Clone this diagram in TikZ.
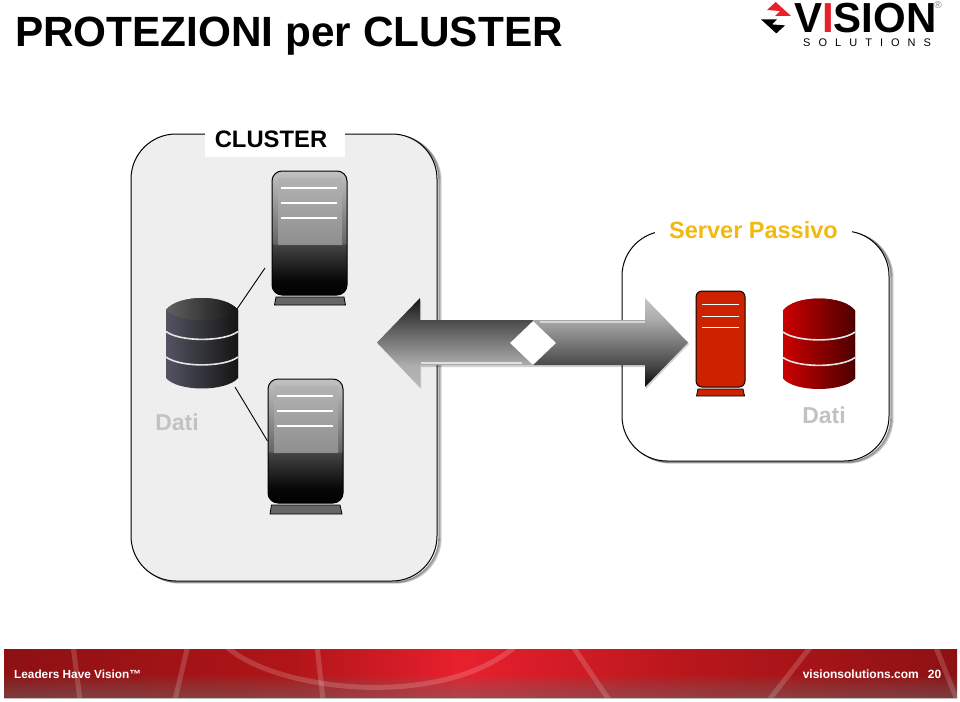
\documentclass[tikz,border=0pt]{standalone}
\usepackage{fontspec}
\setmainfont{Liberation Sans}
\newfontfamily\logofont[LetterSpace=73]{Liberation Sans}
\usetikzlibrary{shapes.geometric}
\definecolor{boxgrey}{HTML}{EEEEEE}
\definecolor{datigrey}{HTML}{C2C2C2}
\definecolor{amber}{HTML}{F2B90F}
\definecolor{srvred}{HTML}{CC2200}
\definecolor{footred}{HTML}{B01518}
\definecolor{footbright}{HTML}{E8202E}
\definecolor{logored}{HTML}{E8202A}
\pgfdeclareverticalshading{srvgrey}{100bp}{color(0bp)=(black);color(25bp)=(black);color(31bp)=(black!97!white);color(45bp)=(black!74!white);color(46bp)=(black!60!white);color(75bp)=(black!24!white);color(100bp)=(black!24!white)}
\pgfdeclareverticalshading{arrL}{100bp}{color(0bp)=(black!28!white);color(25bp)=(black!28!white);color(37bp)=(black!32!white);color(62bp)=(black!70!white);color(75bp)=(black!92!white);color(100bp)=(black!92!white)}
\pgfdeclareverticalshading{arrR}{100bp}{color(0bp)=(black!98!white);color(25bp)=(black!98!white);color(37bp)=(black!72!white);color(63bp)=(black!33!white);color(75bp)=(black!22!white);color(100bp)=(black!22!white)}
\pgfdeclarehorizontalshading{footshade}{100bp}{color(0bp)=(footred!80!black);color(25bp)=(footred!80!black);color(40bp)=(footred);color(49bp)=(footbright);color(60bp)=(footred!80!footbright);color(75bp)=(footred!80!black);color(100bp)=(footred!80!black)}
\tikzset{
  groupbox/.style={draw=black,line width=1pt,rounded corners=45pt},
  boxshadow/.style={draw=black!55!white,line width=1.4pt,rounded corners=45pt},
  datilabel/.style={text=datigrey,font=\fontsize{23}{25}\selectfont\bfseries,inner sep=0pt},
  greyserver/.style={draw=black,line width=1pt,rounded corners=10pt,shading=srvgrey,minimum width=75pt,minimum height=124pt,inner sep=0pt},
  redserver/.style={draw=black,line width=1pt,fill=srvred,rounded corners=6pt,minimum width=49pt,minimum height=96pt,inner sep=0pt},
  panel/.style={top color=black!30!white,bottom color=black!44!white,minimum width=64pt,minimum height=66pt,inner sep=0pt},
  srvline/.style={white,line width=1.2pt},
  greybase/.style={draw=black,line width=.8pt,fill=black!60!white},
  redbase/.style={draw=black,line width=.8pt,fill=srvred},
  link/.style={draw=black,line width=.9pt},
  swoosh/.style={white,opacity=.17,line width=5pt},
  foottext/.style={text=white,font=\fontsize{12}{14}\selectfont\bfseries,inner sep=0pt},
}
\newcommand{\dbicon}[6]{%
  % x, y, left, middle, right, top left
  \begin{scope}[shift={(#1,#2)}]
    \fill[black!35!white,opacity=.5] (0.5,12.5) -- (0.5,80.5) .. controls (12,92.5) and (60,92.5) .. (72.5,80.5) -- (72.5,12.5) -- cycle;
    \shade[left color=#3,middle color=#4,right color=#5] (0,12) -- (0,80) .. controls (12,94) and (60,94) .. (72,80) -- (72,12) .. controls (60,-4) and (12,-4) .. (0,12) -- cycle;
    \shade[left color=#6,right color=#5] (0,12) .. controls (12,-4) and (60,-4) .. (72,12) .. controls (60,26) and (12,26) .. (0,12) -- cycle;
    \draw[white!90!black,line width=1.6pt] (0,33.5) .. controls (14,44) and (58,44) .. (72,33.5);
    \draw[white!90!black,line width=1.6pt] (0,59) .. controls (14,69.5) and (58,69.5) .. (72,59);
  \end{scope}}
\begin{document}
\begin{tikzpicture}[x=1pt,y=-1pt]
\useasboundingbox (0,0) rectangle (960,701);
\fill[white] (0,0) rectangle (960,701);

% title
\node[anchor=base west,inner sep=0pt,font=\fontsize{42.3}{44}\selectfont\bfseries] (title) at (15,47) {PROTEZIONI per CLUSTER};

% logo
\fill[logored] (775.7,2) -- (791,16) -- (775,16) -- (780,11) -- (767,10) -- cycle;
\fill[black] (776.3,33.4) -- (761,19.4) -- (777,19.4) -- (772,24.4) -- (785,25.4) -- cycle;
\node[anchor=base west,inner sep=0pt,font=\fontsize{42}{44}\selectfont\bfseries] (vision) at (794,33) {V{\color{logored}I}SION};
\node[anchor=base west,inner sep=0pt,font=\fontsize{11}{12}\selectfont\logofont] (solutions) at (803,46) {SOLUTIONS};
\node[inner sep=0pt,text=black!50!white,font=\fontsize{10}{11}\selectfont] (reg) at (938,5) {®};

% cluster box
\foreach \o/\k in {4/.3,3/.5,2/.7}{
  \draw[boxshadow,opacity=\k] (131+\o,134+.5*\o) rectangle (437+\o,581+.5*\o);}
\draw[groupbox,fill=boxgrey] (131,134) rectangle (437,581);
\node[fill=white,minimum width=140pt,minimum height=32pt,inner sep=0pt] (clusterlabel) at (275,141) {};
\node[anchor=base,inner sep=0pt,font=\fontsize{23.8}{25}\selectfont\bfseries] (clustertext) at (271,147) {CLUSTER};

% passive box
\foreach \o/\k in {4/.3,3/.5,2/.7}{
  \draw[boxshadow,opacity=\k] (622+\o,231+.5*\o) rectangle (889+\o,461+.5*\o);}
\draw[groupbox,fill=white] (622,231) rectangle (889,461);
\node[fill=white,minimum width=197pt,minimum height=24pt,inner sep=0pt] (passivelabel) at (753.5,229) {};
\node[anchor=base,inner sep=0pt,text=amber,font=\fontsize{23.5}{25}\selectfont\bfseries] (passivetext) at (753.5,238) {Server Passivo};

% server 1
\node[greyserver] (srvA) at (309.5,233) {};
\node[panel] (panelA) at (310,211) {};
\foreach \y in {188,203,218} \draw[srvline] (281,\y) -- (337,\y);
\draw[greybase] (276,297) -- (344,297) -- (345.5,305) -- (274.5,305) -- cycle;

% server 2
\node[greyserver] (srvB) at (305.5,441) {};
\node[panel] (panelB) at (306,419) {};
\foreach \y in {396,411,426} \draw[srvline] (277,\y) -- (333,\y);
\draw[greybase] (271.5,505) -- (340,505) -- (342,514) -- (270,514) -- cycle;

% database, left
\node[minimum width=72pt,minimum height=91pt,inner sep=0pt] (dbL) at (202,343.5) {};
\dbicon{166}{298}{black!65!blue!35!white!50!black}{black!85!blue}{black!92!white}{black!62!white}
\coordinate (dbLa) at (237,309);
\coordinate (dbLb) at (235,387);
\coordinate (free) at (265,268);
\draw[link] (dbLa) -- (free);
\draw[link] (dbLb) -- (srvB.west);
\node[datilabel] (datiL) at (177,422) {Dati};

% red server
\node[redserver] (srvR) at (720.5,339) {};
\foreach \y in {304,316,327} \draw[srvline,line width=.9pt] (702,\y) -- (739,\y);
\draw[redbase] (698,389) -- (743,389) -- (744.5,396) -- (696.5,396) -- cycle;

% red database
\node[minimum width=72pt,minimum height=93pt,inner sep=0pt] (dbR) at (819,344.5) {};
\dbicon{783}{298.5}{red!80!black}{red!55!black}{red!30!black}{red!80!black}
\node[datilabel] (datiR) at (824,415) {Dati};

% double arrow
\fill[black,opacity=.18] (378,344) -- (421,300) -- (421,322) -- (533,322) -- (533,367) -- (421,367) -- (421,389) -- cycle;
\shade[shading=arrL] (377,342.5) -- (420,298) -- (420,320) -- (533,320) -- (533,365) -- (420,365) -- (420,387) -- cycle;
\draw[white!88!black,line width=2.5pt] (421,363) -- (522,363);
\fill[black,opacity=.18] (689,344) -- (646,300) -- (646,322) -- (533,322) -- (533,367) -- (646,367) -- (646,389) -- cycle;
\shade[shading=arrR] (688,342.5) -- (645,298) -- (645,320) -- (533,320) -- (533,365) -- (645,365) -- (645,387) -- cycle;
\draw[black!16!white,line width=1.8pt] (540,322) -- (645,322);
\node[diamond,fill=white,minimum width=46pt,minimum height=44pt,inner sep=0pt] (hub) at (533,343) {};

% footer
\shade[shading=footshade] (4,649) rectangle (957,698);
\foreach \y in {676,678,...,696}{
  \fill[black!55!white,opacity=.055] (4,\y) rectangle (957,698);}
\begin{scope}
  \clip (4,649) rectangle (957,698);
  \draw[swoosh] (73,645) -- (80,700);
  \draw[swoosh] (188,645) -- (175,700);
  \draw[swoosh] (225,645) .. controls (270,690) and (440,712) .. (517,645);
  \draw[swoosh] (317,645) -- (323,700);
  \draw[swoosh] (572,645) -- (609,700);
  \draw[swoosh] (812,645) -- (769,700);
  \draw[swoosh] (935,645) -- (957,700);
\end{scope}
\draw[black!25!white,line width=.6pt] (4,698.3) -- (957,698.3);
\node[foottext,anchor=west] (lead) at (14,674) {\fontsize{11.8}{14}\selectfont Leaders Have Vision™};
\node[foottext,anchor=east] (site) at (919,674) {visionsolutions.com};
\node[foottext,anchor=east] (page) at (941.5,674) {20};
\end{tikzpicture}
\end{document}
